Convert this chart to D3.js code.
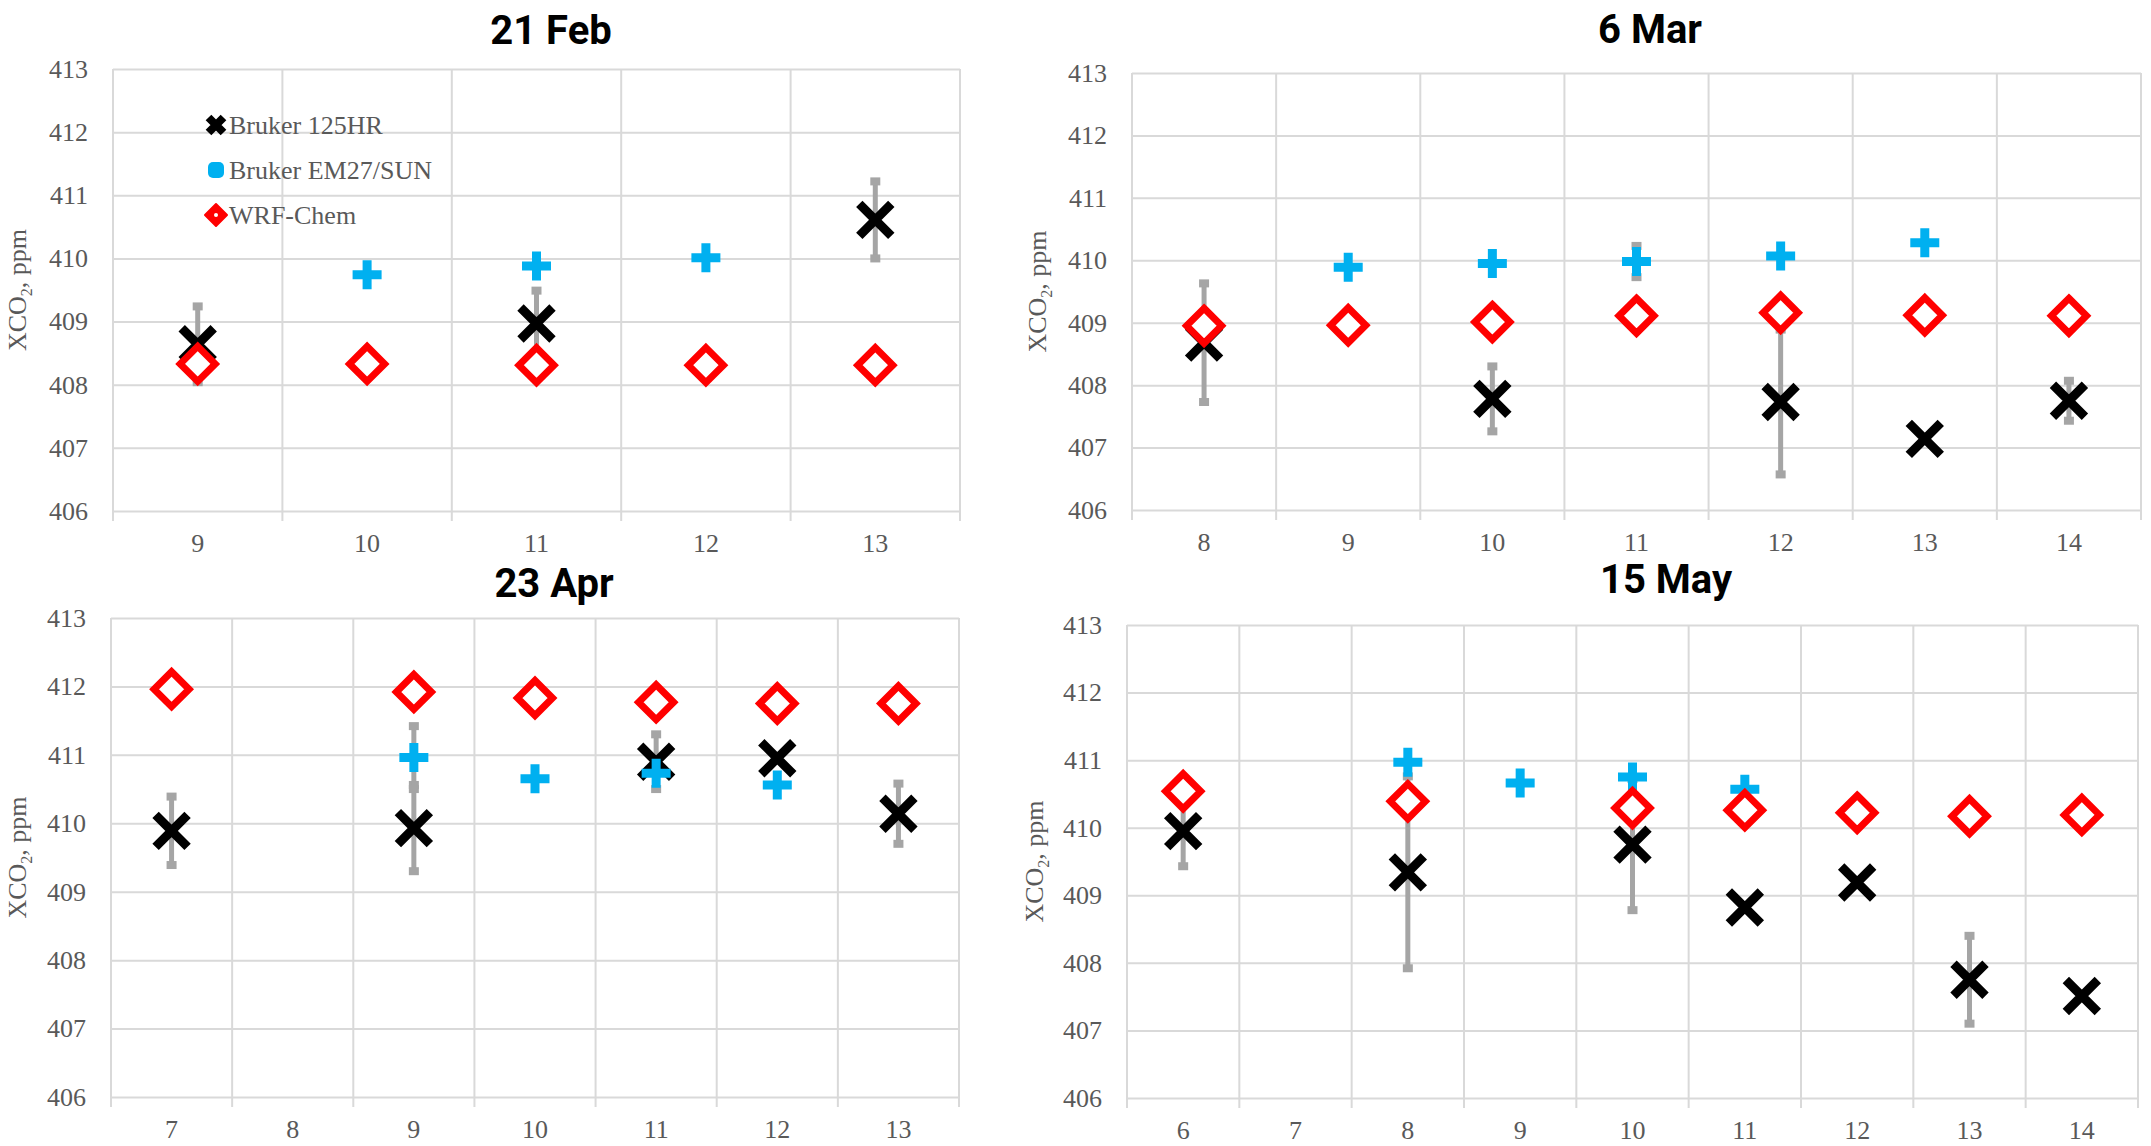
<!DOCTYPE html>
<html>
<head>
<meta charset="utf-8">
<script src="https://cdn.jsdelivr.net/npm/d3@7"></script>
<style>
  html, body { margin: 0; padding: 0; background: #fff; }
  svg { display: block; }
</style>
</head>
<body>
<svg id="chart" width="2151" height="1146"></svg>
<script>
// XCO2 diurnal comparison: Bruker 125HR, Bruker EM27/SUN and WRF-Chem, four days

// --- 21 Feb ---
const febHours   = [9, 10, 11, 12, 13];
const febHR      = [408.64, null, 408.97, null, 410.61];
const febHRErr   = [0.60, null, 0.52, null, 0.61];
const febEM      = [null, 409.74, 409.88, 410.01, null];
const febEMErr   = [null, null, null, null, null];
const febWRF     = [408.33, 408.33, 408.31, 408.31, 408.31];

// --- 6 Mar ---
const marHours   = [8, 9, 10, 11, 12, 13, 14];
const marHR      = [408.68, null, 407.78, null, 407.73, 407.14, 407.75];
const marHRErr   = [0.95, null, 0.52, null, 1.16, null, 0.32];
const marEM      = [null, 409.89, 409.95, 409.98, 410.07, 410.28, null];
const marEMErr   = [null, null, null, 0.25, null, null, null];
const marWRF     = [408.95, 408.96, 409.01, 409.11, 409.16, 409.12, 409.11];

// --- 23 Apr ---
const aprHours   = [7, 8, 9, 10, 11, 12, 13];
const aprHR      = [409.89, null, 409.93, null, 410.90, 410.95, 410.14];
const aprHRErr   = [0.50, null, 0.63, null, 0.40, null, 0.44];
const aprEM      = [null, null, 410.96, 410.65, 410.73, 410.56, null];
const aprEMErr   = [null, null, 0.46, null, null, null, null];
const aprWRF     = [411.96, null, 411.92, 411.83, 411.77, 411.75, 411.75];

// --- 15 May ---
const mayHours   = [6, 7, 8, 9, 10, 11, 12, 13, 14];
const mayHR      = [409.95, null, 409.34, null, 409.75, 408.82, 409.19, 407.75, 407.51];
const mayHRErr   = [0.52, null, 1.42, null, 0.97, null, null, 0.65, null];
const mayEM      = [null, null, 410.97, 410.66, 410.75, 410.57, null, null, null];
const mayEMErr   = [null, null, null, null, null, null, null, null, null];
const mayWRF     = [410.54, null, 410.39, null, 410.29, 410.26, 410.22, 410.17, 410.19];

const yTicks = [406, 407, 408, 409, 410, 411, 412, 413];
const seriesNames = ["Bruker 125HR", "Bruker EM27/SUN", "WRF-Chem"];

const COLORS = { hr: "#000000", em: "#00B0F0", wrf: "#FF0000", err: "#A5A5A5",
                 grid: "#D9D9D9", text: "#595959" };
const SERIF = "'Liberation Serif', 'Times New Roman', serif";

const panels = [
  { title: "21 Feb", hours: febHours, hr: febHR, hrErr: febHRErr, em: febEM, emErr: febEMErr, wrf: febWRF,
    box: { l: 113, r: 960, t: 69, b: 511 }, titleX: 551, titleY: 44, yLabelX: 26, legend: true },
  { title: "6 Mar", hours: marHours, hr: marHR, hrErr: marHRErr, em: marEM, emErr: marEMErr, wrf: marWRF,
    box: { l: 1132, r: 2141, t: 73, b: 510 }, titleX: 1650, titleY: 43, yLabelX: 1046, legend: false },
  { title: "23 Apr", hours: aprHours, hr: aprHR, hrErr: aprHRErr, em: aprEM, emErr: aprEMErr, wrf: aprWRF,
    box: { l: 111, r: 959, t: 618, b: 1097 }, titleX: 554, titleY: 597, yLabelX: 26, legend: false },
  { title: "15 May", hours: mayHours, hr: mayHR, hrErr: mayHRErr, em: mayEM, emErr: mayEMErr, wrf: mayWRF,
    box: { l: 1127, r: 2138, t: 625, b: 1098 }, titleX: 1666, titleY: 593, yLabelX: 1043, legend: false }
];

const svg = d3.select("#chart");

// marker shapes
function drawX(g, size, sw) {
  const h = size / 2;
  g.append("path")
    .attr("d", `M${-h},${-h}L${h},${h}M${-h},${h}L${h},${-h}`)
    .attr("stroke", COLORS.hr).attr("stroke-width", sw).attr("fill", "none");
}
function drawPlus(g, size, sw) {
  const h = size / 2;
  g.append("path")
    .attr("d", `M${-h},0L${h},0M0,${-h}L0,${h}`)
    .attr("stroke", COLORS.em).attr("stroke-width", sw).attr("fill", "none");
}
function drawDiamond(g, size, sw) {
  const h = size / 2;
  g.append("path")
    .attr("d", `M0,${-h}L${h},0L0,${h}L${-h},0Z`)
    .attr("stroke", COLORS.wrf).attr("stroke-width", sw).attr("fill", "#fff")
    .attr("stroke-linejoin", "miter");
}

panels.forEach(p => {
  const { l, r, t, b } = p.box;
  const x = d3.scaleBand().domain(p.hours).range([l, r]).padding(0);
  const y = d3.scaleLinear().domain([406, 413]).range([b, t]);
  const cx = h => x(h) + x.bandwidth() / 2;
  const g = svg.append("g");

  // horizontal gridlines + y tick labels
  const yAxis = d3.axisLeft(y).tickValues(yTicks).tickFormat(d3.format("d"))
    .tickSize(-(r - l)).tickPadding(25);
  const ya = g.append("g").attr("transform", `translate(${l},0)`).call(yAxis);
  ya.select(".domain").remove();
  ya.selectAll(".tick line").attr("stroke", COLORS.grid).attr("stroke-width", 2);
  ya.selectAll(".tick text")
    .attr("fill", COLORS.text).attr("font-family", SERIF).attr("font-size", 26);

  // vertical gridlines at category boundaries (extend below the axis as ticks)
  const edges = p.hours.map(h => x(h)).concat([r]);
  g.append("g").selectAll("line").data(edges).join("line")
    .attr("x1", d => d).attr("x2", d => d)
    .attr("y1", t).attr("y2", b + 10)
    .attr("stroke", COLORS.grid).attr("stroke-width", 2);

  // x tick labels
  const xAxis = d3.axisBottom(x).tickSize(0).tickPadding(23);
  const xa = g.append("g").attr("transform", `translate(0,${b})`).call(xAxis);
  xa.select(".domain").remove();
  xa.selectAll(".tick text")
    .attr("fill", COLORS.text).attr("font-family", SERIF).attr("font-size", 26);

  // title
  g.append("text").attr("x", p.titleX).attr("y", p.titleY)
    .attr("text-anchor", "middle")
    .attr("font-family", "Roboto, 'Liberation Sans', sans-serif")
    .attr("font-weight", 700).attr("font-size", 40)
    .attr("fill", "#000").text(p.title);

  // y axis title
  const yl = g.append("text")
    .attr("transform", `translate(${p.yLabelX},${(t + b) / 2}) rotate(-90)`)
    .attr("text-anchor", "middle")
    .attr("font-family", SERIF)
    .attr("font-size", 26).attr("fill", COLORS.text);
  yl.append("tspan").text("XCO");
  yl.append("tspan").attr("font-size", 16).attr("dy", 6).text("2");
  yl.append("tspan").attr("dy", -6).text(", ppm");

  // error bars
  const errs = [];
  p.hours.forEach((h, i) => {
    if (p.hr[i] != null && p.hrErr[i] != null) errs.push({ h, v: p.hr[i], e: p.hrErr[i] });
    if (p.em[i] != null && p.emErr[i] != null) errs.push({ h, v: p.em[i], e: p.emErr[i] });
  });
  const eg = g.append("g");
  errs.forEach(d => {
    const x0 = cx(d.h), y1 = y(d.v + d.e), y2 = y(d.v - d.e);
    eg.append("line").attr("x1", x0).attr("x2", x0).attr("y1", y1).attr("y2", y2)
      .attr("stroke", COLORS.err).attr("stroke-width", 5);
    [y1, y2].forEach(yy => eg.append("rect")
      .attr("x", x0 - 5).attr("y", yy - 4).attr("width", 10).attr("height", 8)
      .attr("fill", COLORS.err));
  });

  // Bruker 125HR
  p.hours.forEach((h, i) => {
    if (p.hr[i] == null) return;
    drawX(g.append("g").attr("transform", `translate(${cx(h)},${y(p.hr[i])})`), 32, 9);
  });
  // Bruker EM27/SUN
  p.hours.forEach((h, i) => {
    if (p.em[i] == null) return;
    drawPlus(g.append("g").attr("transform", `translate(${cx(h)},${y(p.em[i])})`), 29, 9);
  });
  // WRF-Chem
  p.hours.forEach((h, i) => {
    if (p.wrf[i] == null) return;
    drawDiamond(g.append("g").attr("transform", `translate(${cx(h)},${y(p.wrf[i])})`), 35, 7);
  });

  // legend
  if (p.legend) {
    const lg = g.append("g");
    const ys = [125, 170, 215];
    seriesNames.forEach((name, i) => {
      const mg = lg.append("g").attr("transform", `translate(216,${ys[i]})`);
      if (i === 0) drawX(mg, 15, 8);
      if (i === 1) {
        mg.append("rect").attr("x", -8).attr("y", -8).attr("width", 16).attr("height", 16)
          .attr("rx", 5).attr("fill", COLORS.em);
      }
      if (i === 2) {
        mg.append("path").attr("d", "M0,-11L11,0L0,11L-11,0Z")
          .attr("fill", COLORS.wrf).attr("stroke", COLORS.wrf).attr("stroke-width", 2)
          .attr("stroke-linejoin", "round");
        mg.append("circle").attr("r", 2).attr("fill", "#fff");
      }
      lg.append("text").attr("x", 229).attr("y", ys[i] + 9)
        .attr("font-family", SERIF)
        .attr("font-size", 26).attr("fill", COLORS.text).text(name);
    });
  }
});
</script>
</body>
</html>
